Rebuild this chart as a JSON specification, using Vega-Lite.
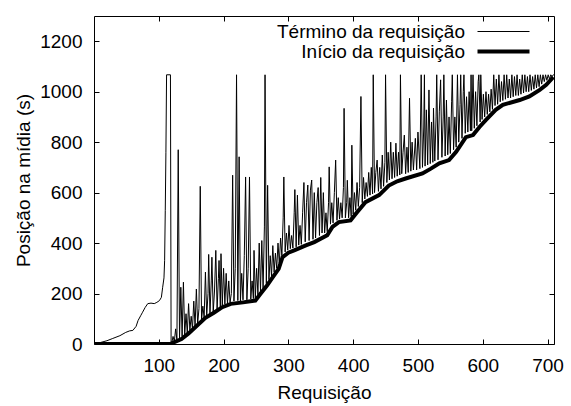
{
  "$schema": "https://vega.github.io/schema/vega-lite/v6.json",
  "autosize": "none",
  "width": 460,
  "height": 328,
  "padding": {"left": 94, "top": 16, "right": 17, "bottom": 62},
  "background": "white",
  "config": {
    "view": {"stroke": "black", "strokeWidth": 1},
    "font": "Liberation Sans",
    "axis": {
      "domain": false,
      "grid": false,
      "tickColor": "black",
      "tickWidth": 1,
      "tickSize": -5,
      "labelColor": "black",
      "labelFont": "Liberation Sans",
      "labelFontSize": 19,
      "titleFont": "Liberation Sans",
      "titleFontSize": 19,
      "titleFontWeight": "normal",
      "titleColor": "black",
      "format": "d"
    },
    "legend": {
      "labelFont": "Liberation Sans",
      "labelFontSize": 19,
      "labelColor": "black",
      "labelLimit": 0
    }
  },
  "datasets": {
    "termino": [
      {"x":0,"y":2},{"x":10,"y":6},{"x":20,"y":13},{"x":29,"y":22},{"x":40,"y":33},{"x":49,"y":46},{"x":55,"y":52},{"x":60,"y":54},{"x":65,"y":70},{"x":68,"y":93},{"x":72,"y":112},{"x":75,"y":126},{"x":79,"y":145},{"x":83,"y":160},{"x":88,"y":162},{"x":93,"y":160},{"x":97,"y":165},{"x":101,"y":172},{"x":104,"y":185},{"x":106,"y":225},{"x":108,"y":262},{"x":109,"y":330},{"x":110,"y":530},{"x":111,"y":760},{"x":112,"y":1067},{"x":118,"y":1067},{"x":119,"y":5},
      {"x":120,"y":4},{"x":122,"y":30},{"x":124,"y":10},{"x":126,"y":60},{"x":128,"y":15},{"x":130,"y":770},{"x":132,"y":20},{"x":134,"y":225},{"x":136,"y":30},{"x":138,"y":245},{"x":140,"y":35},{"x":142,"y":120},{"x":144,"y":42},{"x":146,"y":160},{"x":148,"y":55},{"x":150,"y":110},{"x":152,"y":60},{"x":154,"y":170},{"x":156,"y":70},{"x":158,"y":218},{"x":160,"y":80},{"x":162,"y":140},{"x":164,"y":625},{"x":166,"y":95},{"x":168,"y":150},{"x":170,"y":105},{"x":172,"y":285},{"x":174,"y":112},{"x":176,"y":200},{"x":177,"y":355},{"x":179,"y":118},{"x":181,"y":250},{"x":182,"y":344},{"x":184,"y":126},{"x":186,"y":210},{"x":188,"y":371},{"x":190,"y":138},{"x":192,"y":260},{"x":193,"y":331},{"x":195,"y":145},{"x":196,"y":358},{"x":198,"y":152},{"x":200,"y":300},{"x":202,"y":158},{"x":204,"y":280},{"x":206,"y":160},{"x":208,"y":250},{"x":210,"y":165},{"x":212,"y":200},{"x":214,"y":669},{"x":216,"y":170},{"x":218,"y":300},{"x":220,"y":1067},{"x":222,"y":172},{"x":224,"y":742},{"x":226,"y":170},{"x":228,"y":280},{"x":230,"y":175},{"x":232,"y":350},{"x":234,"y":662},{"x":236,"y":175},{"x":238,"y":300},{"x":240,"y":662},{"x":242,"y":178},{"x":244,"y":250},{"x":246,"y":180},{"x":247,"y":371},{"x":249,"y":182},{"x":251,"y":300},{"x":253,"y":195},{"x":255,"y":400},{"x":257,"y":210},{"x":259,"y":410},{"x":261,"y":220},{"x":263,"y":464},{"x":264,"y":1067},{"x":266,"y":240},{"x":268,"y":629},{"x":270,"y":255},{"x":272,"y":350},{"x":274,"y":268},{"x":276,"y":390},{"x":278,"y":285},{"x":280,"y":360},{"x":282,"y":300},{"x":284,"y":400},{"x":286,"y":320},{"x":288,"y":420},{"x":290,"y":350},{"x":292,"y":500},{"x":293,"y":662},{"x":295,"y":365},{"x":297,"y":440},{"x":299,"y":372},{"x":301,"y":470},{"x":303,"y":378},{"x":305,"y":430},{"x":307,"y":380},{"x":309,"y":520},{"x":310,"y":612},{"x":312,"y":385},{"x":314,"y":590},{"x":316,"y":392},{"x":318,"y":470},{"x":320,"y":395},{"x":322,"y":520},{"x":324,"y":640},{"x":326,"y":405},{"x":328,"y":560},{"x":330,"y":630},{"x":332,"y":410},{"x":334,"y":610},{"x":336,"y":650},{"x":338,"y":415},{"x":340,"y":600},{"x":342,"y":420},{"x":344,"y":560},{"x":346,"y":620},{"x":348,"y":430},{"x":350,"y":660},{"x":352,"y":440},{"x":354,"y":600},{"x":356,"y":440},{"x":358,"y":520},{"x":360,"y":445},{"x":362,"y":560},{"x":363,"y":702},{"x":365,"y":475},{"x":367,"y":560},{"x":369,"y":480},{"x":371,"y":600},{"x":373,"y":729},{"x":375,"y":490},{"x":377,"y":580},{"x":379,"y":495},{"x":381,"y":560},{"x":383,"y":500},{"x":385,"y":620},{"x":386,"y":934},{"x":388,"y":500},{"x":390,"y":560},{"x":391,"y":649},{"x":393,"y":500},{"x":395,"y":580},{"x":397,"y":505},{"x":398,"y":788},{"x":400,"y":515},{"x":402,"y":600},{"x":404,"y":530},{"x":406,"y":640},{"x":408,"y":545},{"x":410,"y":620},{"x":412,"y":981},{"x":414,"y":560},{"x":416,"y":660},{"x":418,"y":575},{"x":420,"y":640},{"x":422,"y":585},{"x":424,"y":680},{"x":426,"y":590},{"x":428,"y":700},{"x":430,"y":595},{"x":431,"y":1067},{"x":433,"y":600},{"x":435,"y":680},{"x":437,"y":729},{"x":439,"y":605},{"x":441,"y":700},{"x":443,"y":615},{"x":445,"y":749},{"x":447,"y":625},{"x":449,"y":720},{"x":450,"y":1067},{"x":452,"y":640},{"x":454,"y":760},{"x":456,"y":650},{"x":458,"y":800},{"x":460,"y":655},{"x":462,"y":760},{"x":464,"y":660},{"x":466,"y":796},{"x":468,"y":665},{"x":470,"y":760},{"x":472,"y":670},{"x":473,"y":1067},{"x":475,"y":675},{"x":477,"y":760},{"x":479,"y":828},{"x":481,"y":675},{"x":483,"y":780},{"x":485,"y":680},{"x":487,"y":974},{"x":489,"y":685},{"x":491,"y":800},{"x":493,"y":690},{"x":496,"y":815},{"x":498,"y":690},{"x":500,"y":840},{"x":503,"y":695},{"x":505,"y":1067},{"x":507,"y":700},{"x":509,"y":860},{"x":510,"y":1067},{"x":511,"y":705},{"x":513,"y":928},{"x":515,"y":710},{"x":517,"y":1007},{"x":519,"y":715},{"x":521,"y":880},{"x":523,"y":720},{"x":524,"y":935},{"x":526,"y":725},{"x":528,"y":900},{"x":529,"y":1067},{"x":531,"y":730},{"x":533,"y":920},{"x":535,"y":1047},{"x":537,"y":740},{"x":539,"y":900},{"x":540,"y":1067},{"x":542,"y":745},{"x":544,"y":967},{"x":546,"y":750},{"x":548,"y":900},{"x":550,"y":755},{"x":552,"y":960},{"x":553,"y":1067},{"x":555,"y":770},{"x":557,"y":900},{"x":559,"y":780},{"x":561,"y":1067},{"x":563,"y":800},{"x":565,"y":950},{"x":566,"y":1067},{"x":568,"y":815},{"x":570,"y":1000},{"x":571,"y":1067},{"x":573,"y":835},{"x":575,"y":980},{"x":577,"y":840},{"x":579,"y":1000},{"x":581,"y":845},{"x":582,"y":1067},{"x":583,"y":845},{"x":585,"y":1067},{"x":587,"y":855},{"x":589,"y":1000},{"x":591,"y":865},{"x":593,"y":1040},{"x":594,"y":1067},{"x":596,"y":880},{"x":597,"y":1067},{"x":599,"y":890},{"x":601,"y":990},{"x":603,"y":900},{"x":605,"y":1000},{"x":607,"y":910},{"x":609,"y":990},{"x":611,"y":920},{"x":613,"y":1010},{"x":615,"y":930},{"x":617,"y":1067},{"x":619,"y":945},{"x":621,"y":1050},{"x":623,"y":950},{"x":625,"y":1067},{"x":627,"y":960},{"x":629,"y":1040},{"x":631,"y":965},{"x":633,"y":1067},{"x":635,"y":970},{"x":637,"y":1067},{"x":639,"y":975},{"x":641,"y":1050},{"x":643,"y":975},{"x":645,"y":1067},{"x":647,"y":980},{"x":649,"y":1060},{"x":651,"y":985},{"x":653,"y":1067},{"x":655,"y":985},{"x":657,"y":1050},{"x":659,"y":990},{"x":661,"y":1067},{"x":663,"y":995},{"x":665,"y":1067},{"x":667,"y":1000},{"x":669,"y":1060},{"x":671,"y":1000},{"x":673,"y":1067},{"x":675,"y":1005},{"x":677,"y":1060},{"x":679,"y":1010},{"x":681,"y":1067},{"x":683,"y":1015},{"x":685,"y":1067},{"x":687,"y":1020},{"x":689,"y":1067},{"x":691,"y":1030},{"x":693,"y":1067},{"x":695,"y":1040},{"x":697,"y":1067},{"x":699,"y":1045},{"x":701,"y":1067},{"x":703,"y":1050},{"x":705,"y":1067},{"x":707,"y":1060},{"x":709,"y":1067},{"x":710,"y":1067}
    ],
    "inicio": [
      {"x":0,"y":0},{"x":118,"y":0},{"x":121,"y":4},{"x":135,"y":20},{"x":146,"y":42},{"x":160,"y":75},{"x":172,"y":104},{"x":185,"y":124},{"x":198,"y":146},{"x":211,"y":159},{"x":230,"y":165},{"x":249,"y":172},{"x":257,"y":199},{"x":267,"y":232},{"x":276,"y":265},{"x":285,"y":298},{"x":291,"y":344},{"x":300,"y":362},{"x":309,"y":371},{"x":327,"y":391},{"x":340,"y":404},{"x":360,"y":431},{"x":368,"y":464},{"x":378,"y":483},{"x":396,"y":490},{"x":406,"y":522},{"x":419,"y":562},{"x":440,"y":590},{"x":455,"y":628},{"x":468,"y":645},{"x":481,"y":656},{"x":507,"y":676},{"x":520,"y":695},{"x":533,"y":716},{"x":548,"y":729},{"x":559,"y":762},{"x":574,"y":820},{"x":585,"y":828},{"x":595,"y":860},{"x":605,"y":888},{"x":620,"y":928},{"x":631,"y":948},{"x":657,"y":967},{"x":672,"y":981},{"x":688,"y":1007},{"x":698,"y":1027},{"x":709,"y":1058}
    ]
  },
  "layer": [
    {
      "data": {"name": "termino"},
      "mark": {"type": "line", "clip": true, "strokeWidth": 1},
      "encoding": {
        "x": {"field": "x", "type": "quantitative", "scale": {"domain": [0, 710], "nice": false, "zero": false},
              "axis": {"orient": "bottom", "values": [100,200,300,400,500,600,700], "labelPadding": 17, "title": "Requisição", "titlePadding": 8}},
        "y": {"field": "y", "type": "quantitative", "scale": {"domain": [0, 1300], "nice": false},
              "axis": {"orient": "left", "values": [0,200,400,600,800,1000,1200], "labelPadding": 17, "title": "Posição na mídia (s)", "titlePadding": 6}},
        "color": {"datum": "Término da requisição", "type": "nominal",
                  "scale": {"domain": ["Término da requisição", "Início da requisição"], "range": ["black", "black"]},
                  "legend": {"orient": "none", "legendX": 400, "legendY": 6, "title": null, "padding": 0, "rowPadding": 0, "columns": 1,
                             "labelAlign": "right", "labelOffset": -48,
                             "symbolType": "stroke", "symbolSize": 2704,
                             "encode": {"symbols": {"update": {"strokeWidth": {"signal": "datum.value === 'Início da requisição' ? 4 : 1"}, "stroke": {"value": "black"}}}}}}
      }
    },
    {
      "data": {"name": "inicio"},
      "mark": {"type": "line", "clip": true, "strokeWidth": 4},
      "encoding": {
        "x": {"field": "x", "type": "quantitative",
              "axis": {"orient": "top", "values": [100,200,300,400,500,600,700], "labels": false, "title": null}},
        "y": {"field": "y", "type": "quantitative",
              "axis": {"orient": "right", "values": [0,200,400,600,800,1000,1200], "labels": false, "title": null}},
        "color": {"datum": "Início da requisição", "type": "nominal"}
      }
    }
  ],
  "resolve": {"axis": {"x": "independent", "y": "independent"}}
}
